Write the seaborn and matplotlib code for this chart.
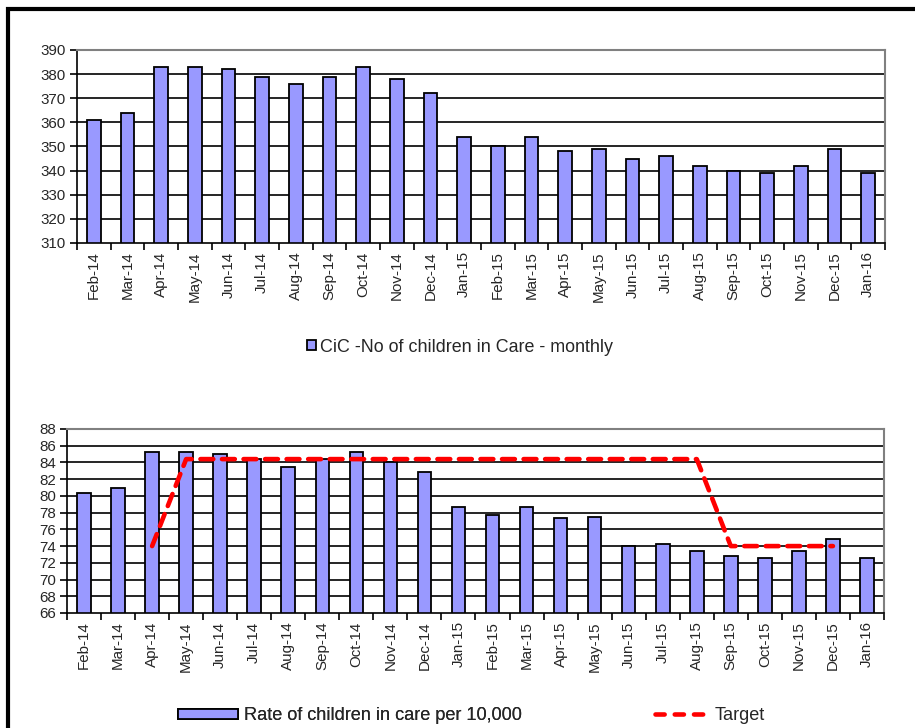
import numpy as np
import pandas as pd
import matplotlib
matplotlib.use("Agg")
import matplotlib.pyplot as plt
import seaborn as sns
from matplotlib.patches import Patch, Rectangle
from matplotlib.lines import Line2D

months = ["Feb-14", "Mar-14", "Apr-14", "May-14", "Jun-14", "Jul-14", "Aug-14",
          "Sep-14", "Oct-14", "Nov-14", "Dec-14", "Jan-15", "Feb-15", "Mar-15",
          "Apr-15", "May-15", "Jun-15", "Jul-15", "Aug-15", "Sep-15", "Oct-15",
          "Nov-15", "Dec-15", "Jan-16"]
cic_count = [361, 364, 383, 383, 382, 379, 376, 379, 383, 378, 372, 354, 350,
             354, 348, 349, 345, 346, 342, 340, 339, 342, 349, 339]
rate = [80.3, 80.9, 85.2, 85.2, 85.0, 84.4, 83.5, 84.4, 85.2, 84.0, 82.8, 78.7,
        77.7, 78.7, 77.3, 77.5, 74.0, 74.3, 73.4, 72.8, 72.6, 73.4, 74.9, 72.6]
target = [np.nan, np.nan, 74.0, 84.4, 84.4, 84.4, 84.4, 84.4, 84.4, 84.4, 84.4,
          84.4, 84.4, 84.4, 84.4, 84.4, 84.4, 84.4, 84.4, 74.0, 74.0, 74.0, 74.0,
          np.nan]
top_ticks = [310, 320, 330, 340, 350, 360, 370, 380, 390]
bottom_ticks = [66, 68, 70, 72, 74, 76, 78, 80, 82, 84, 86, 88]

label_top = "CiC -No of children in Care - monthly"
label_rate = "Rate of children in care per 10,000"
label_target = "Target"

sns.set_style("white")
plt.rcParams["font.family"] = ["Liberation Sans", "DejaVu Sans"]

W, H = 915, 728
fig = plt.figure(figsize=(W / 100, H / 100), dpi=100)

BAR = "#9999FF"
FS = 10.9

df = pd.DataFrame({"month": months, "cic": cic_count, "rate": rate,
                   "target": target})
df["pos"] = pd.Categorical(df["month"], categories=months).codes


def style_axes(ax, ticks):
    ax.set_yticks(ticks)
    ax.set_ylim(ticks[0], ticks[-1])
    ax.set_xlim(-0.5, len(months) - 0.5)
    for t in ticks[1:-1]:
        ax.axhline(t, color="black", lw=1.2, zorder=0.5)
    for s in ["top", "right"]:
        ax.spines[s].set_color("#808080")
        ax.spines[s].set_linewidth(1.5)
    for s in ["left", "bottom"]:
        ax.spines[s].set_color("black")
        ax.spines[s].set_linewidth(1.2)
    ax.set_xticks(range(len(months)))
    ax.set_xticklabels(months, rotation=90, fontsize=FS)
    ax.set_xticks(np.arange(-0.5, len(months), 1.0), minor=True)
    ax.tick_params(axis="x", which="major", length=0, pad=6)
    ax.tick_params(axis="x", which="minor", length=5, width=1.2,
                   color="black", direction="out", bottom=True)
    ax.tick_params(axis="y", length=5, width=1.2, color="black",
                   direction="out", left=True, labelsize=FS, pad=3)
    ax.set_xlabel("")
    ax.set_ylabel("")


# Top chart
ax1 = fig.add_axes([77 / W, 1 - 243 / H, (885 - 77) / W, (243 - 50) / H])
sns.barplot(data=df, x="month", y="cic", order=months, color=BAR,
            width=0.4, edgecolor="black", linewidth=1.3, saturation=1,
            ax=ax1, zorder=2)
style_axes(ax1, top_ticks)

# Bottom chart
ax2 = fig.add_axes([67 / W, 1 - 613 / H, (884 - 67) / W, (613 - 429) / H])
sns.barplot(data=df, x="month", y="rate", order=months, color=BAR,
            width=0.4, edgecolor="black", linewidth=1.3, saturation=1,
            ax=ax2, zorder=2)
sns.lineplot(data=df.dropna(subset=["target"]), x="pos", y="target",
             color="#FF0000", lw=3.3, ax=ax2, zorder=3, sort=False,
             dashes=False)
line = ax2.lines[-1]
line.set_dashes((2.8, 1.9))
line.set_dash_capstyle("round")
style_axes(ax2, bottom_ticks)

# Legends
h_top = [Patch(facecolor=BAR, edgecolor="black", linewidth=1.3)]
fig.legend(h_top, [label_top], loc="center left",
           bbox_to_anchor=(307 / W, 1 - 347 / H), frameon=False,
           fontsize=12.9, handlelength=0.52, handleheight=0.52,
           handletextpad=0.22, borderpad=0, borderaxespad=0)

LFS = 13.1
h_rate = [Patch(facecolor=BAR, edgecolor="black", linewidth=1.3)]
leg1 = fig.legend(h_rate, [label_rate], loc="center left",
                  bbox_to_anchor=(178 / W, 1 - 716 / H), frameon=False,
                  fontsize=LFS, handlelength=3.3, handleheight=0.45,
                  handletextpad=0.3, borderpad=0, borderaxespad=0)
h_tg = [Line2D([0], [0], color="#FF0000", lw=3.3, dashes=(2.0, 2.2),
               dash_capstyle="round")]
fig.legend(h_tg, [label_target], loc="center left",
           bbox_to_anchor=(655 / W, 1 - 716 / H), frameon=False,
           fontsize=LFS, handlelength=2.75, handletextpad=0.55,
           borderpad=0, borderaxespad=0)
fig.add_artist(leg1)

# Outer black frame
fig.add_artist(Rectangle((8 / W, -0.2), 1.2, 1.2 - 9 / H,
                         transform=fig.transFigure, fill=False,
                         edgecolor="black", linewidth=3.0, clip_on=False))

fig.savefig("out.png", dpi=100)
